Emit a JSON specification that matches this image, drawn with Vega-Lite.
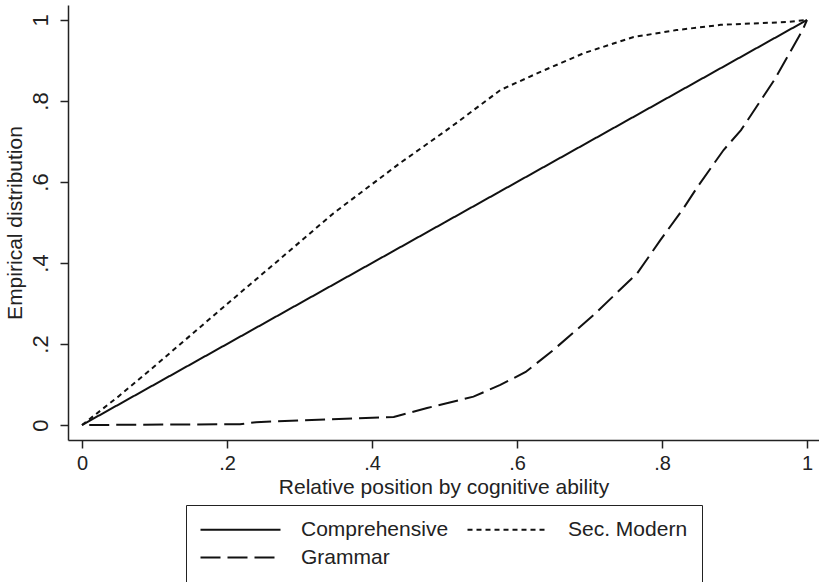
{
  "$schema": "https://vega.github.io/schema/vega-lite/v6.json",
  "autosize": {"type": "none"},
  "padding": {"left": 68, "top": 5, "right": 0, "bottom": 142},
  "width": 751,
  "height": 435,
  "background": "white",
  "config": {
    "view": {"stroke": null},
    "font": "Liberation Sans",
    "axis": {"grid": false, "domainColor": "#222", "tickColor": "#222", "domainWidth": 1.5, "tickWidth": 1.5, "labelColor": "#222", "titleColor": "#222", "labelFont": "Liberation Sans", "titleFont": "Liberation Sans", "titleFontWeight": "normal"}
  },
  "data": {
    "values": [
      {"x": 0, "y": 0, "g": "Comprehensive"},
      {"x": 0.25, "y": 0.25, "g": "Comprehensive"},
      {"x": 0.5, "y": 0.5, "g": "Comprehensive"},
      {"x": 0.75, "y": 0.75, "g": "Comprehensive"},
      {"x": 1, "y": 1, "g": "Comprehensive"},
      {"x": 0, "y": 0, "g": "Sec. Modern"},
      {"x": 0.05, "y": 0.07, "g": "Sec. Modern"},
      {"x": 0.1, "y": 0.145, "g": "Sec. Modern"},
      {"x": 0.195, "y": 0.291, "g": "Sec. Modern"},
      {"x": 0.283, "y": 0.425, "g": "Sec. Modern"},
      {"x": 0.347, "y": 0.523, "g": "Sec. Modern"},
      {"x": 0.439, "y": 0.647, "g": "Sec. Modern"},
      {"x": 0.499, "y": 0.723, "g": "Sec. Modern"},
      {"x": 0.522, "y": 0.753, "g": "Sec. Modern"},
      {"x": 0.577, "y": 0.827, "g": "Sec. Modern"},
      {"x": 0.63, "y": 0.87, "g": "Sec. Modern"},
      {"x": 0.692, "y": 0.918, "g": "Sec. Modern"},
      {"x": 0.761, "y": 0.958, "g": "Sec. Modern"},
      {"x": 0.82, "y": 0.975, "g": "Sec. Modern"},
      {"x": 0.881, "y": 0.988, "g": "Sec. Modern"},
      {"x": 0.974, "y": 0.995, "g": "Sec. Modern"},
      {"x": 1, "y": 1, "g": "Sec. Modern"},
      {"x": 0.01, "y": 0.0, "g": "Grammar"},
      {"x": 0.218, "y": 0.002, "g": "Grammar"},
      {"x": 0.24, "y": 0.007, "g": "Grammar"},
      {"x": 0.43, "y": 0.02, "g": "Grammar"},
      {"x": 0.476, "y": 0.042, "g": "Grammar"},
      {"x": 0.522, "y": 0.062, "g": "Grammar"},
      {"x": 0.54, "y": 0.07, "g": "Grammar"},
      {"x": 0.577, "y": 0.099, "g": "Grammar"},
      {"x": 0.612, "y": 0.131, "g": "Grammar"},
      {"x": 0.65, "y": 0.185, "g": "Grammar"},
      {"x": 0.706, "y": 0.272, "g": "Grammar"},
      {"x": 0.766, "y": 0.375, "g": "Grammar"},
      {"x": 0.798, "y": 0.457, "g": "Grammar"},
      {"x": 0.83, "y": 0.536, "g": "Grammar"},
      {"x": 0.849, "y": 0.588, "g": "Grammar"},
      {"x": 0.885, "y": 0.679, "g": "Grammar"},
      {"x": 0.909, "y": 0.728, "g": "Grammar"},
      {"x": 0.955, "y": 0.852, "g": "Grammar"},
      {"x": 0.994, "y": 0.975, "g": "Grammar"},
      {"x": 1, "y": 1, "g": "Grammar"}
    ]
  },
  "mark": {"type": "line", "color": "#111", "strokeWidth": 2},
  "encoding": {
    "x": {
      "field": "x", "type": "quantitative",
      "scale": {"domain": [-0.0193, 1.0166], "nice": false, "zero": false},
      "axis": {"values": [0, 0.2, 0.4, 0.6, 0.8, 1], "title": "Relative position by cognitive ability", "labelFontSize": 20, "titleFontSize": 21, "tickSize": 8, "labelPadding": 5, "titlePadding": 3,
        "labelExpr": "datum.value == 0 ? '0' : datum.value == 1 ? '1' : replace(format(datum.value, '.1f'), '0.', '.')"}
    },
    "y": {
      "field": "y", "type": "quantitative",
      "scale": {"domain": [-0.037, 1.037], "nice": false, "zero": false},
      "axis": {"values": [0, 0.2, 0.4, 0.6, 0.8, 1], "title": "Empirical distribution", "labelFontSize": 22, "titleFontSize": 21, "tickSize": 8, "labelAngle": -90, "labelAlign": "center", "labelBaseline": "bottom", "labelPadding": 8, "titlePadding": 4,
        "labelExpr": "datum.value == 0 ? '0' : datum.value == 1 ? '1' : replace(format(datum.value, '.1f'), '0.', '.')"}
    },
    "detail": {"field": "g"},
    "strokeDash": {
      "field": "g", "type": "nominal",
      "scale": {"domain": ["Comprehensive", "Grammar", "Sec. Modern"], "range": [[1, 0], [20, 7], [5, 4]]},
      "legend": {
        "title": null, "orient": "none", "legendX": 118, "legendY": 500, "columns": 2,
        "values": ["Comprehensive", "Grammar", "Sec. Modern"],
        "symbolType": "M-2,0H14", "symbolSize": 100, "symbolStrokeWidth": 2, "symbolStrokeColor": "#111",
        "labelFont": "Liberation Sans", "labelFontSize": 21, "labelColor": "#222", "labelOffset": 80, "columnPadding": 14, "rowPadding": 6,
        "strokeColor": "#222", "padding": 14, "fillColor": "white"
      }
    }
  }
}
